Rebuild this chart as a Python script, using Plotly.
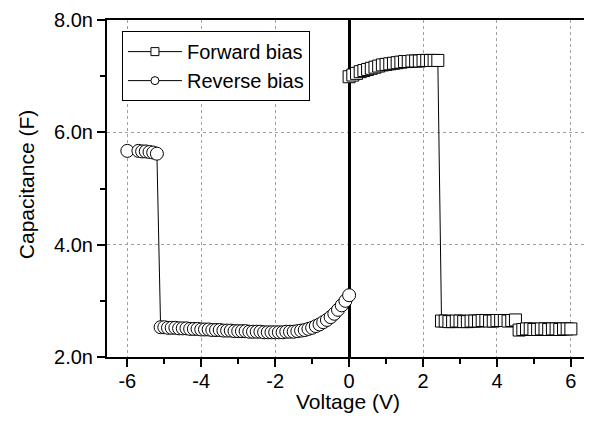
import plotly.graph_objects as go

# ---- data (capacitance in nF, voltage in V) ----
forward_v = [0.0, 0.1, 0.2, 0.3, 0.4, 0.5, 0.6, 0.7, 0.8, 0.9,
             1.0, 1.1, 1.2, 1.3, 1.4, 1.5, 1.6, 1.7, 1.8, 1.9,
             2.0, 2.1, 2.2, 2.3, 2.4,
             2.5, 2.6, 2.7, 2.8, 2.9, 3.0, 3.1, 3.2, 3.3, 3.4,
             3.5, 3.6, 3.7, 3.8, 3.9, 4.0, 4.1, 4.2, 4.3, 4.4, 4.5,
             4.6, 4.7, 4.8, 4.9, 5.0, 5.1, 5.2, 5.3, 5.4, 5.5,
             5.6, 5.7, 5.8, 5.9, 6.0]
forward_c_nf = [6.99, 7.02, 7.05, 7.08, 7.10, 7.12, 7.14, 7.16, 7.18, 7.20,
                7.21, 7.22, 7.23, 7.24, 7.25, 7.26, 7.26, 7.27, 7.27, 7.27,
                7.28, 7.28, 7.28, 7.28, 7.28,
                2.64, 2.64, 2.63, 2.63, 2.64, 2.64, 2.63, 2.63, 2.64, 2.64,
                2.64, 2.65, 2.65, 2.64, 2.64, 2.65, 2.65, 2.65, 2.64, 2.65, 2.66,
                2.48, 2.49, 2.50, 2.50, 2.49, 2.49, 2.50, 2.50, 2.49, 2.50,
                2.50, 2.49, 2.50, 2.50, 2.50]

reverse_v = [-6.0, -5.7, -5.6, -5.5, -5.4, -5.3, -5.2,
             -5.1, -5.0, -4.9, -4.8, -4.7, -4.6, -4.5, -4.4, -4.3, -4.2,
             -4.1, -4.0, -3.9, -3.8, -3.7, -3.6, -3.5, -3.4, -3.3, -3.2,
             -3.1, -3.0, -2.9, -2.8, -2.7, -2.6, -2.5, -2.4, -2.3, -2.2,
             -2.1, -2.0, -1.9, -1.8, -1.7, -1.6, -1.5, -1.4, -1.3, -1.2,
             -1.1, -1.0, -0.9, -0.8, -0.7, -0.6, -0.5, -0.4, -0.3, -0.2,
             -0.1, 0.0]
reverse_c_nf = [5.67, 5.67, 5.66, 5.66, 5.65, 5.64, 5.62,
                2.53, 2.53, 2.52, 2.52, 2.52, 2.51, 2.51, 2.51, 2.50, 2.50,
                2.50, 2.49, 2.49, 2.49, 2.48, 2.48, 2.48, 2.47, 2.47, 2.47,
                2.46, 2.46, 2.46, 2.46, 2.45, 2.45, 2.45, 2.45, 2.44, 2.44,
                2.44, 2.44, 2.44, 2.44, 2.45, 2.45, 2.45, 2.46, 2.47, 2.48,
                2.50, 2.52, 2.55, 2.58, 2.62, 2.66, 2.71, 2.77, 2.84, 2.92,
                3.00, 3.10]

x_ticks = [-6, -4, -2, 0, 2, 4, 6]
x_tick_labels = ["-6", "-4", "-2", "0", "2", "4", "6"]
x_minor = [-5, -3, -1, 1, 3, 5]
y_ticks_nf = [2, 4, 6, 8]
y_tick_labels = ["2.0n", "4.0n", "6.0n", "8.0n"]
y_minor_nf = [3, 5, 7]

series_names = ["Forward bias", "Reverse bias"]
x_title = "Voltage (V)"
y_title = "Capacitance (F)"

# ---- figure ----
FONT = "Liberation Sans, Arial, sans-serif"
fig = go.Figure()

fig.add_trace(go.Scatter(
    x=forward_v, y=[c * 1e-9 for c in forward_c_nf],
    mode="lines+markers", showlegend=False,
    line=dict(color="black", width=1),
    marker=dict(symbol="square", size=12, color="white",
                line=dict(color="black", width=1)),
))
fig.add_trace(go.Scatter(
    x=reverse_v, y=[c * 1e-9 for c in reverse_c_nf],
    mode="lines+markers", showlegend=False,
    line=dict(color="black", width=1),
    marker=dict(symbol="circle", size=13, color="white",
                line=dict(color="black", width=1)),
))
# legend entries with small symbols
for name, sym in zip(series_names, ["square", "circle"]):
    fig.add_trace(go.Scatter(
        x=[None], y=[None], mode="lines+markers", name=name,
        line=dict(color="black", width=1),
        marker=dict(symbol=sym, size=8, color="white",
                    line=dict(color="black", width=1)),
    ))

fig.update_layout(
    width=584, height=414,
    margin=dict(l=99, r=3, t=12, b=65),
    paper_bgcolor="white", plot_bgcolor="white",
    font=dict(family=FONT, size=20, color="black"),
    legend=dict(x=0.031, y=0.967, xanchor="left", yanchor="top",
                bgcolor="white", bordercolor="black", borderwidth=1,
                font=dict(size=20), tracegroupgap=0, itemwidth=54),
    xaxis=dict(
        range=[-6.55, 6.49], tickmode="array", tickvals=x_ticks,
        ticktext=x_tick_labels, automargin=False, ticklabelstandoff=-3,
        ticks="outside", ticklen=8, tickwidth=1.5, tickcolor="black",
        showline=True, linewidth=2, linecolor="black", mirror=True,
        showgrid=True, gridcolor="#a0a0a0", gridwidth=1, griddash="dot",
        zeroline=True, zerolinecolor="black", zerolinewidth=2.5,
        minor=dict(tickmode="array", tickvals=x_minor, ticks="outside",
                   ticklen=5, tickwidth=1.5, tickcolor="black", showgrid=False),
        tickfont=dict(size=20),
    ),
    yaxis=dict(
        range=[2e-9, 8e-9], tickmode="array", automargin=False,
        tickvals=[v * 1e-9 for v in y_ticks_nf], ticktext=y_tick_labels,
        ticks="outside", ticklen=8, tickwidth=1.5, tickcolor="black",
        showline=True, linewidth=2, linecolor="black", mirror=True,
        showgrid=True, gridcolor="#a0a0a0", gridwidth=1, griddash="dot",
        zeroline=False,
        minor=dict(tickmode="array", tickvals=[v * 1e-9 for v in y_minor_nf],
                   ticks="outside", ticklen=5, tickwidth=1.5,
                   tickcolor="black", showgrid=False),
        tickfont=dict(size=20),
    ),
    annotations=[
        dict(text=x_title, xref="paper", yref="paper", x=0.5, y=-0.131,
             xanchor="center", yanchor="middle", showarrow=False,
             font=dict(size=21)),
        dict(text=y_title, xref="paper", yref="paper", x=-0.168, y=0.51,
             xanchor="center", yanchor="middle", showarrow=False,
             textangle=-90, font=dict(size=21)),
    ],
)

fig.write_html("out.html")
